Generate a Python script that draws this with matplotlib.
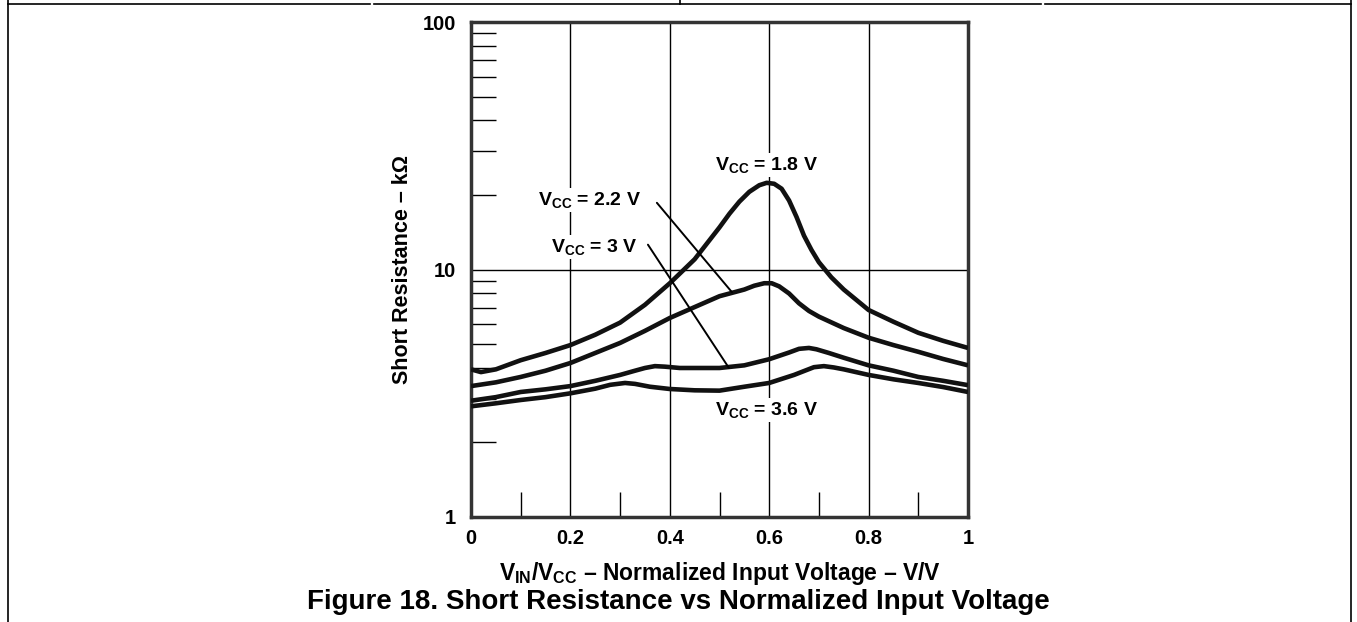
import matplotlib
matplotlib.use("Agg")
import matplotlib.pyplot as plt
from matplotlib.lines import Line2D
from matplotlib.ticker import FixedLocator, NullFormatter

plt.rcParams['font.family'] = ['Liberation Sans', 'DejaVu Sans']
plt.rcParams['font.weight'] = 'bold'
plt.rcParams['mathtext.fontset'] = 'custom'
plt.rcParams['mathtext.rm'] = 'Liberation Sans:bold'
plt.rcParams['mathtext.bf'] = 'Liberation Sans:bold'
plt.rcParams['mathtext.it'] = 'Liberation Sans:bold'

# ---- data ----
x_18 = [0, 0.02, 0.05, 0.1, 0.15, 0.2, 0.25, 0.3, 0.35, 0.4, 0.45, 0.5, 0.52, 0.54,
        0.56, 0.58, 0.595, 0.61, 0.625, 0.64, 0.655, 0.67, 0.685, 0.7, 0.725, 0.75,
        0.8, 0.85, 0.9, 0.95, 1.0]
r_18 = [3.95, 3.85, 3.95, 4.3, 4.6, 4.95, 5.45, 6.1, 7.2, 8.8, 11.0, 14.8, 16.8, 18.8,
        20.6, 21.9, 22.4, 22.2, 21.2, 19.0, 16.3, 13.7, 12.0, 10.7, 9.3, 8.3,
        6.86, 6.15, 5.55, 5.15, 4.82]

x_22 = [0, 0.05, 0.1, 0.15, 0.2, 0.25, 0.3, 0.35, 0.4, 0.45, 0.5, 0.55, 0.57, 0.59,
        0.605, 0.62, 0.64, 0.66, 0.68, 0.7, 0.75, 0.8, 0.85, 0.9, 0.95, 1.0]
r_22 = [3.38, 3.5, 3.68, 3.9, 4.19, 4.6, 5.05, 5.65, 6.37, 7.05, 7.8, 8.3, 8.6, 8.8,
        8.8, 8.55, 8.0, 7.3, 6.8, 6.45, 5.8, 5.3, 4.95, 4.65, 4.35, 4.1]

x_30 = [0, 0.05, 0.1, 0.15, 0.2, 0.25, 0.3, 0.33, 0.35, 0.37, 0.39, 0.42, 0.45, 0.5,
        0.55, 0.6, 0.64, 0.66, 0.68, 0.695, 0.72, 0.75, 0.8, 0.85, 0.9, 0.95, 1.0]
r_30 = [2.95, 3.05, 3.2, 3.28, 3.38, 3.55, 3.75, 3.9, 4.0, 4.07, 4.05, 4.0, 4.0, 4.0,
        4.1, 4.34, 4.62, 4.78, 4.82, 4.76, 4.6, 4.4, 4.1, 3.9, 3.68, 3.55, 3.41]

x_36 = [0, 0.05, 0.1, 0.15, 0.2, 0.25, 0.28, 0.31, 0.33, 0.36, 0.4, 0.45, 0.5, 0.55,
        0.6, 0.65, 0.69, 0.71, 0.73, 0.75, 0.8, 0.85, 0.9, 0.95, 1.0]
r_36 = [2.8, 2.88, 2.97, 3.05, 3.16, 3.3, 3.42, 3.48, 3.45, 3.36, 3.29, 3.25, 3.24, 3.36,
        3.48, 3.75, 4.03, 4.07, 4.02, 3.95, 3.75, 3.6, 3.48, 3.35, 3.2]

x_ticks = [0, 0.2, 0.4, 0.6, 0.8, 1]
x_tick_labels = ['0', '0.2', '0.4', '0.6', '0.8', '1']
y_ticks = [1, 10, 100]
y_tick_labels = ['1', '10', '100']

W, H = 1357, 622
fig = plt.figure(figsize=(W / 100, H / 100), dpi=100)
ax = fig.add_axes([471 / W, 1 - 517 / H, (968 - 471) / W, (517 - 22) / H])

lw_curve = 3.3
for xs, rs in [(x_18, r_18), (x_22, r_22), (x_30, r_30), (x_36, r_36)]:
    ax.plot(xs, rs, color='#111111', lw=lw_curve, solid_joinstyle='round',
            solid_capstyle='butt', zorder=3)

ax.set_yscale('log')
ax.set_xlim(0, 1)
ax.set_ylim(1, 100)

ax.set_xticks(x_ticks)
ax.set_xticklabels(x_tick_labels)
ax.xaxis.set_minor_locator(FixedLocator([0.1, 0.3, 0.5, 0.7, 0.9]))
ax.set_yticks(y_ticks)
ax.set_yticklabels(y_tick_labels)
ax.yaxis.set_minor_locator(FixedLocator([2, 3, 4, 5, 6, 7, 8, 9, 20, 30, 40, 50, 60, 70, 80, 90]))
ax.yaxis.set_minor_formatter(NullFormatter())

ax.tick_params(axis='both', which='major', length=0, labelsize=14.5)
ax.tick_params(axis='x', which='major', pad=9)
ax.tick_params(axis='y', which='major', pad=11)
ax.tick_params(axis='both', which='minor', direction='in', length=18, width=1, color='black')
ax.grid(True, which='major', color='black', lw=1)
for lab in ax.get_xticklabels() + ax.get_yticklabels():
    lab.set_fontweight('bold')

for sp in ax.spines.values():
    sp.set_linewidth(2.5)
    sp.set_color('#333333')

ax.set_xlabel(r'$\mathrm{V_{IN}/V_{CC}}$ – Normalized Input Voltage – V/V',
              fontsize=16.5, fontweight='bold', labelpad=8)
ax.set_ylabel('Short Resistance – kΩ', fontsize=15.5, fontweight='bold', labelpad=7)

bbox = dict(facecolor='white', edgecolor='none', pad=1.5)
lab_kw = dict(fontsize=14, fontweight='bold', ha='center', va='center', zorder=4, bbox=bbox)
ax.text(0.595, 26.4, r'$\mathrm{V_{CC}}$ = 1.8 V', **lab_kw)
ax.text(0.595, 2.71, r'$\mathrm{V_{CC}}$ = 3.6 V', **lab_kw)
ax.text(0.239, 19.1, r'$\mathrm{V_{CC}}$ = 2.2 V', **lab_kw)
ax.text(0.249, 12.3, r'$\mathrm{V_{CC}}$ = 3 V', **lab_kw)

ax.annotate('', xy=(0.525, 8.1), xytext=(0.374, 18.6),
            arrowprops=dict(arrowstyle='-', lw=1.4, color='black', shrinkA=0, shrinkB=0))
ax.annotate('', xy=(0.519, 4.0), xytext=(0.356, 12.6),
            arrowprops=dict(arrowstyle='-', lw=1.4, color='black', shrinkA=0, shrinkB=0))

fig.text(678 / W, 1 - 602 / H, 'Figure 18. Short Resistance vs Normalized Input Voltage',
         fontsize=20, fontweight='bold', ha='center', va='center')

# page frame
def pline(x0, y0, x1, y1):
    fig.add_artist(Line2D([x0 / W, x1 / W], [1 - y0 / H, 1 - y1 / H], color='black', lw=1.2))

pline(8, 4, 370, 4)
pline(374, 4, 1041, 4)
pline(1045, 4, 1351, 4)
pline(680, 0, 680, 4)
pline(8, 0, 8, 622)
pline(1351, 0, 1351, 622)

fig.savefig('out.png', dpi=100)
